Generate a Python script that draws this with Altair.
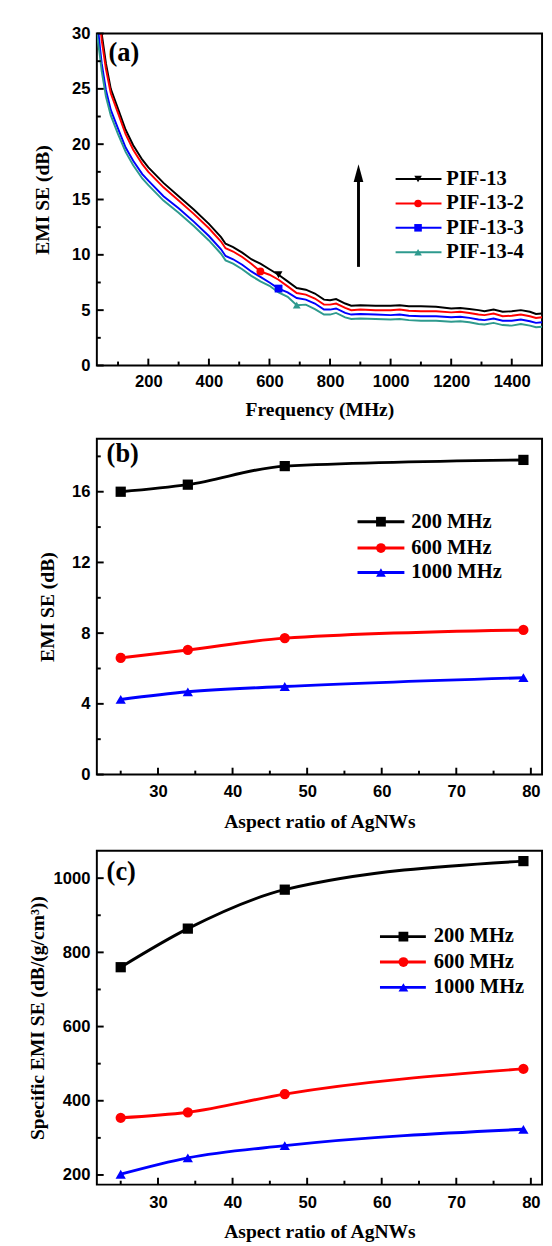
import altair as alt
import pandas as pd

SERIF = "Liberation Serif"
SANS = "Liberation Sans"

# ---------------- Panel (a): EMI SE vs frequency ----------------
freq_mhz = [30, 40, 46, 60, 76, 100, 125, 150, 180, 200,
            250, 300, 350, 400, 440, 455, 480, 510, 540, 570,
            600, 630, 660, 690, 720, 750, 780, 800, 820, 850,
            870, 900, 950, 1000, 1030, 1060, 1100, 1150, 1200, 1230,
            1260, 1290, 1310, 1340, 1370, 1400, 1430, 1460, 1480, 1500]
se_pif13 = [36.0, 32.0, 30.0, 27.3, 25.0, 23.2, 21.3, 19.9, 18.6, 17.9,
            16.5, 15.3, 14.1, 12.8, 11.6, 11.0, 10.7, 10.2, 9.6, 9.2,
            8.7, 8.2, 7.6, 7.0, 6.85, 6.5, 5.95, 5.9, 6.0, 5.6,
            5.4, 5.45, 5.4, 5.4, 5.45, 5.35, 5.35, 5.3, 5.15, 5.2,
            5.1, 5.0, 4.9, 5.05, 4.85, 4.9, 5.0, 4.85, 4.65, 4.7]
se_pif13_2 = [35.0, 31.3, 29.4, 26.8, 24.6, 22.8, 20.9, 19.5, 18.2, 17.5,
              16.1, 14.9, 13.7, 12.4, 11.2, 10.6, 10.3, 9.8, 9.2, 8.5,
              8.2, 7.75, 7.15, 6.55, 6.4, 6.05, 5.5, 5.5, 5.6, 5.2,
              5.0, 5.05, 5.0, 5.0, 5.05, 4.95, 4.9, 4.9, 4.8, 4.85,
              4.75, 4.6, 4.55, 4.7, 4.45, 4.5, 4.6, 4.45, 4.3, 4.35]
se_pif13_3 = [31.5, 28.8, 27.3, 24.9, 23.1, 21.4, 19.7, 18.5, 17.3, 16.7,
              15.3, 14.2, 13.0, 11.7, 10.5, 9.9, 9.6, 9.1, 8.5, 8.0,
              7.5, 6.95, 6.6, 6.1, 5.95, 5.6, 5.05, 5.05, 5.15, 4.75,
              4.6, 4.65, 4.6, 4.55, 4.6, 4.5, 4.45, 4.45, 4.35, 4.4,
              4.3, 4.15, 4.1, 4.25, 4.05, 4.05, 4.15, 4.0, 3.85, 3.9]
se_pif13_4 = [30.0, 28.0, 26.6, 24.3, 22.6, 20.9, 19.3, 18.1, 16.9, 16.3,
              14.9, 13.8, 12.6, 11.3, 10.1, 9.5, 9.2, 8.7, 8.1, 7.6,
              7.2, 6.6, 6.2, 5.45, 5.5, 5.1, 4.6, 4.6, 4.75, 4.35,
              4.2, 4.25, 4.2, 4.15, 4.2, 4.1, 4.05, 4.05, 3.95, 4.0,
              3.9, 3.75, 3.7, 3.85, 3.65, 3.6, 3.75, 3.6, 3.45, 3.5]
samples_a = ["PIF-13", "PIF-13-2", "PIF-13-3", "PIF-13-4"]
colors_a = ["#000000", "#FF0000", "#0000FF", "#2E9A8E"]
shapes_a = ["triangle-down", "circle", "square", "triangle-up"]
marker_freq_a = [630, 570, 630, 690]
marker_se_a = [8.2, 8.5, 6.95, 5.45]

xlab_a = [200, 400, 600, 800, 1000, 1200, 1400]
xminor_a = [100, 300, 500, 700, 900, 1100, 1300, 1500]
ylab_a = [0, 5, 10, 15, 20, 25, 30]
yminor_a = [2.5, 7.5, 12.5, 17.5, 22.5, 27.5]

# ---------------- Panels (b) and (c) ----------------
aspect_ratio = [25, 34, 47, 79]
freqs_bc = ["200 MHz", "600 MHz", "1000 MHz"]
colors_bc = ["#000000", "#FF0000", "#0000FF"]
shapes_bc = ["square", "circle", "triangle-up"]
se_200 = [16.0, 16.4, 17.45, 17.8]
se_600 = [6.6, 7.05, 7.72, 8.18]
se_1000 = [4.25, 4.68, 4.98, 5.48]
sse_200 = [760, 864, 969, 1046]
sse_600 = [354, 369, 418, 486]
sse_1000 = [202, 246, 279, 323]

xlab_bc = [30, 40, 50, 60, 70, 80]
xminor_bc = [25, 35, 45, 55, 65, 75]
ylab_b = [0, 4, 8, 12, 16]
yminor_b = [2, 6, 10, 14, 18]
ylab_c = [200, 400, 600, 800, 1000]
yminor_c = [300, 500, 700, 900]

W = 456
H_A, H_B, H_C = 340, 344, 342


def tick_layers(xf, yf, xmaj, xmin, ymaj, ymin, H):
    out = []
    for vals, ln in ((xmaj, 7), (xmin, 4)):
        out.append(alt.Chart(pd.DataFrame({xf: vals})).mark_rule(color="black", strokeWidth=2)
                   .encode(x=alt.X(f"{xf}:Q"), y=alt.value(H), y2=alt.value(H - ln)))
    for vals, ln in ((ymaj, 7), (ymin, 4)):
        out.append(alt.Chart(pd.DataFrame({yf: vals})).mark_rule(color="black", strokeWidth=2)
                   .encode(y=alt.Y(f"{yf}:Q"), x=alt.value(0), x2=alt.value(ln)))
    return out


def legend_layers(names, colors, shapes, ys, x0, x1, xm, xt, msize, fsize, sw):
    out = []
    for n, c, s, yy in zip(names, colors, shapes, ys):
        base = alt.Chart(pd.DataFrame({"label": [n]}))
        out.append(base.mark_rule(color=c, strokeWidth=sw)
                   .encode(x=alt.value(x0), x2=alt.value(x1), y=alt.value(yy)))
        out.append(base.mark_point(shape=s, filled=True, color=c, size=msize, opacity=1)
                   .encode(x=alt.value(xm), y=alt.value(yy)))
        out.append(base.mark_text(align="left", baseline="middle", font=SERIF, fontWeight="bold",
                                  fontSize=fsize, color="black")
                   .encode(x=alt.value(xt), y=alt.value(yy), text="label:N"))
    return out


def panel_label(t, x, y):
    return alt.Chart(pd.DataFrame({"t": [t]})).mark_text(
        align="left", baseline="middle", font=SERIF, fontWeight="bold", fontSize=27, color="black"
    ).encode(x=alt.value(x), y=alt.value(y), text="t:N")


# ---- panel (a)
rows = []
for name, vals in zip(samples_a, [se_pif13, se_pif13_2, se_pif13_3, se_pif13_4]):
    for f, v in zip(freq_mhz, vals):
        rows.append({"freq": f, "se": v, "sample": name})
df_a = pd.DataFrame(rows)
df_am = pd.DataFrame({"freq": marker_freq_a, "se": marker_se_a, "sample": samples_a})

x_a = alt.X("freq:Q", scale=alt.Scale(domain=[30, 1500], nice=False, zero=False),
            axis=alt.Axis(values=xlab_a, format="d", title="Frequency (MHz)", labelPadding=9, titlePadding=10))
y_a = alt.Y("se:Q", scale=alt.Scale(domain=[0, 30], nice=False),
            axis=alt.Axis(values=ylab_a, format="d", title="EMI SE (dB)", labelPadding=7, titlePadding=20))
col_a = alt.Color("sample:N", scale=alt.Scale(domain=samples_a, range=colors_a), legend=None)
shp_a = alt.Shape("sample:N", scale=alt.Scale(domain=samples_a, range=shapes_a), legend=None)

lines_a = alt.Chart(df_a).mark_line(strokeWidth=2, clip=True).encode(x=x_a, y=y_a, color=col_a)
marks_a = alt.Chart(df_am).mark_point(filled=True, size=64, opacity=1).encode(
    x="freq:Q", y="se:Q", color=col_a, shape=shp_a)

arrow_d = alt.Chart(pd.DataFrame({"k": [0]}))
arrow_shaft = arrow_d.mark_rule(color="black", strokeWidth=3).encode(
    x=alt.value(268), y=alt.value(239), y2=alt.value(148))
arrow_head = arrow_d.mark_point(shape="M0,-1L0.55,1L-0.55,1Z", filled=True, color="black",
                                size=324, opacity=1).encode(x=alt.value(268), y=alt.value(143))

chart_a = alt.layer(
    lines_a, marks_a, arrow_shaft, arrow_head,
    *tick_layers("freq", "se", xlab_a, xminor_a, ylab_a, yminor_a, H_A),
    *legend_layers(samples_a, colors_a, shapes_a, [149, 174, 199, 224], 306, 353, 329, 358, 60, 21, 2),
    panel_label("(a)", 12, 20),
).properties(width=W, height=H_A)


# ---- panels (b), (c)
def bc_panel(vals_list, ydom, ylab, yminor, ytitle, H, label, lab_y, leg_ys, lx0, lx1, lxm, lxt, tpad):
    rows = []
    for name, vals in zip(freqs_bc, vals_list):
        for a, v in zip(aspect_ratio, vals):
            rows.append({"ratio": a, "val": v, "f": name})
    df = pd.DataFrame(rows)
    x = alt.X("ratio:Q", scale=alt.Scale(domain=[21.8, 81.5], nice=False, zero=False),
              axis=alt.Axis(values=xlab_bc, format="d", title="Aspect ratio of AgNWs",
                            labelPadding=10, titlePadding=12))
    y = alt.Y("val:Q", scale=alt.Scale(domain=ydom, nice=False, zero=False),
              axis=alt.Axis(values=ylab, format="d", title=ytitle, labelPadding=7, titlePadding=tpad))
    col = alt.Color("f:N", scale=alt.Scale(domain=freqs_bc, range=colors_bc), legend=None)
    shp = alt.Shape("f:N", scale=alt.Scale(domain=freqs_bc, range=shapes_bc), legend=None)
    lines = alt.Chart(df).mark_line(strokeWidth=3, interpolate="monotone").encode(x=x, y=y, color=col)
    pts = alt.Chart(df).mark_point(filled=True, size=110, opacity=1).encode(
        x="ratio:Q", y="val:Q", color=col, shape=shp)
    return alt.layer(
        lines, pts,
        *tick_layers("ratio", "val", xlab_bc, xminor_bc, ylab, yminor, H),
        *legend_layers(freqs_bc, colors_bc, shapes_bc, leg_ys, lx0, lx1, lxm, lxt, 100, 21, 3),
        panel_label(label, 10, lab_y),
    ).properties(width=W, height=H)


chart_b = bc_panel([se_200, se_600, se_1000], [0, 19], ylab_b, yminor_b, "EMI SE (dB)", H_B,
                   "(b)", 16, [85, 112, 137], 267, 315, 291, 322, 14)
chart_c = bc_panel([sse_200, sse_600, sse_1000], [174, 1074], ylab_c, yminor_c,
                   "Specific EMI SE (dB/(g/cm³))", H_C, "(c)", 22, [88, 114, 140], 290, 337, 314, 345, 6)

chart = alt.vconcat(chart_a, chart_b, chart_c, spacing=18).resolve_scale(
    color="independent", shape="independent"
).properties(
    padding={"left": 19, "top": 1, "right": 0, "bottom": 0}
).configure_view(stroke="black", strokeWidth=2).configure_axis(
    ticks=False, domain=False, grid=False,
    labelFont=SANS, labelFontSize=17, labelFontWeight="bold", labelColor="black",
    titleFont=SERIF, titleFontSize=20, titleFontWeight="bold", titleColor="black",
    labelFlush=False, labelOverlap=False,
)

chart.save("out.html", embed_options={"renderer": "svg", "actions": False})
